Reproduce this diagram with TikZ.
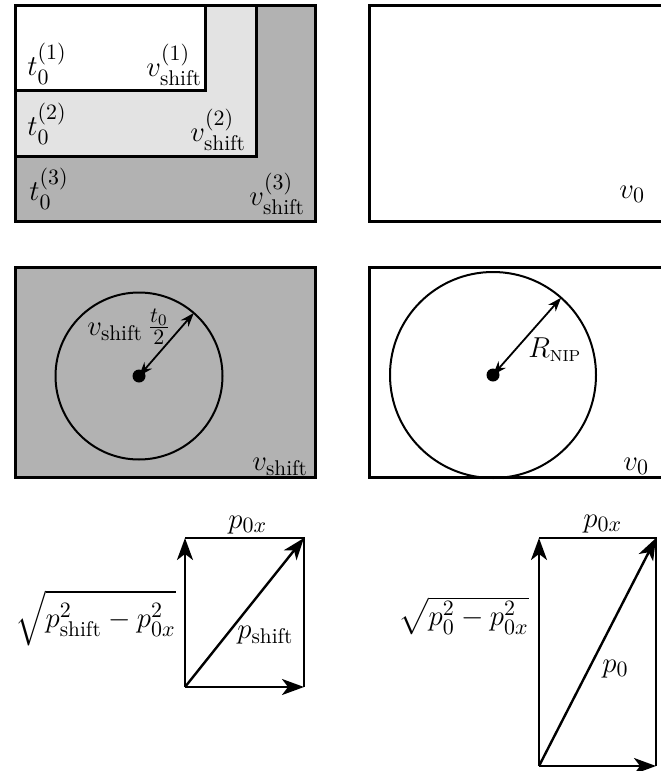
\documentclass[tikz,border=0pt]{standalone}
\usepackage{amsmath,amssymb}
\usepackage{xcolor}
\usetikzlibrary{arrows.meta,calc}

\definecolor{lightgrey}{gray}{0.89}
\definecolor{midgrey}{gray}{0.70}

\begin{document}
\begin{tikzpicture}[x=0.5pt, y=-0.5pt,
    every node/.style={inner sep=0pt, font=\fontsize{15.2}{18}\selectfont},
    box/.style={line width=1.5pt},
    radius arrow/.style={line width=0.9pt, {Stealth[length=7pt,width=5pt]}-{Stealth[length=7pt,width=5pt]}},
    vec/.style={line width=1.2pt, -{Stealth[length=11pt,width=8pt,inset=3pt]}},
    side/.style={line width=0.8pt}]
  \useasboundingbox (0,0) rectangle (660,771);

  % top left: nested regions
  \draw[box, fill=midgrey]   (15,5) rectangle (315,221);
  \draw[box, fill=lightgrey] (15,5) rectangle (256,156);
  \draw[box, fill=white]     (15,5) rectangle (205,90);
  \node[anchor=base west] (t1) at (27,75)  {$t_0^{(1)}$};
  \node[anchor=base west] (v1) at (146,76) {$v_{\text{shift}}^{(1)}$};
  \node[anchor=base west] (t2) at (27,135) {$t_0^{(2)}$};
  \node[anchor=base west] (v2) at (190,141) {$v_{\text{shift}}^{(2)}$};
  \node[anchor=base west] (t3) at (29,200) {$t_0^{(3)}$};
  \node[anchor=base west] (v3) at (249,205) {$v_{\text{shift}}^{(3)}$};

  % top right
  \draw[box] (369,5) rectangle (680,221);
  \node[anchor=base west] (vtop) at (619,198) {$v_0$};

  % middle left
  \draw[box, fill=midgrey] (15,267) rectangle (315,477);
  \draw[line width=1pt] (139,376) circle[radius=83.5];
  \node[circle, fill=black, minimum size=6.5pt] (cl) at (139,376) {};
  \coordinate (rl) at ($(139,376)+(-49:83.5)$);
  \draw[radius arrow] (cl.center) -- (rl);
  \node[anchor=base west] (rlab) at (87,335) {$v_{\text{shift}}\,\frac{t_0}{2}$};
  \node[anchor=base west] (vmid) at (252,470) {$v_{\text{shift}}$};

  % middle right
  \draw[box] (369,267) rectangle (680,477);
  \draw[line width=1pt] (493,375) circle[radius=103];
  \node[circle, fill=black, minimum size=6.5pt] (cr) at (493,375) {};
  \coordinate (rr) at ($(493,375)+(-48.6:103)$);
  \draw[radius arrow] (cr.center) -- (rr);
  \node[anchor=base west] (Rnip) at (528,357) {$R_{\scriptscriptstyle\mathrm{NIP}}$};
  \node[anchor=base west] (vmid0) at (623,470) {$v_0$};

  % bottom left: momentum triangle
  \coordinate (o1) at (185,687);
  \coordinate (a1) at (185,538);
  \coordinate (b1) at (304,687);
  \coordinate (c1) at (304,538);
  \draw[side] (a1) -- (c1) -- (b1);
  \draw[vec] (o1) -- (a1);
  \draw[vec] (o1) -- (b1);
  \draw[vec] (o1) -- (c1);
  \node[anchor=base west] (px1) at (228,528) {$p_{0x}$};
  \node[anchor=base east] (sq1) at (176,627) {$\sqrt{p_{\text{shift}}^2-p_{0x}^2}$};
  \node[anchor=base west] (ps1) at (237,638) {$p_{\text{shift}}$};

  % bottom right
  \coordinate (o2) at (539,766);
  \coordinate (a2) at (539,538);
  \coordinate (b2) at (656,766);
  \coordinate (c2) at (656,538);
  \draw[side] (a2) -- (c2) -- (b2);
  \draw[vec] (o2) -- (a2);
  \draw[vec] (o2) -- (b2);
  \draw[vec] (o2) -- (c2);
  \node[anchor=base west] (px2) at (583,527) {$p_{0x}$};
  \node[anchor=base east] (sq2) at (529,625) {$\sqrt{p_0^2-p_{0x}^2}$};
  \node[anchor=base west] (p02) at (602,672) {$p_0$};
\end{tikzpicture}
\end{document}
